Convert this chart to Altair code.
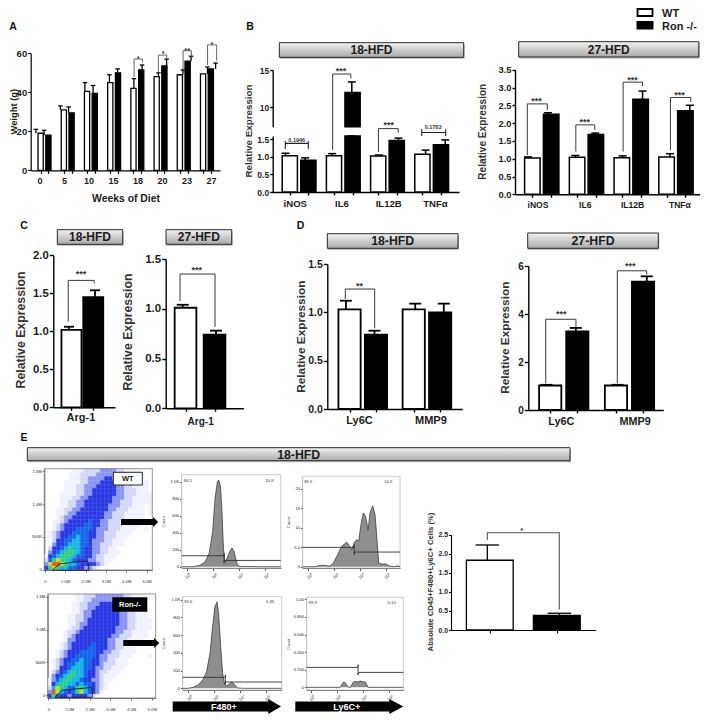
import altair as alt
import pandas as pd

FONT = "Liberation Sans"
INK = "#1c1c1c"
W, H = 692, 706

# ---------- values ----------
A_weeks = ["0", "5", "10", "15", "18", "20", "23", "27"]
A_wt = [19, 31, 40.5, 45, 42, 48, 49, 49.5]
A_wt_err = [21, 33, 45, 49, 47, 50, 51.5, 53]
A_ron = [18, 29.5, 39.5, 50, 51.5, 53.5, 56, 52]
A_ron_err = [20.5, 32.5, 43.5, 52, 54, 57, 58.5, 55]
A_brackets = [[3.84, 47.7, 57.1, 4.18, 55.4], [4.83, 49.4, 59.1, 5.17, 56.9],
              [5.84, 51.8, 61.3, 6.18, 58.3], [6.84, 54, 64.3, 7.21, 56.2]]
A_stars = [[4.01, 58.3, "*"], [5.03, 60.5, "*"], [6.01, 62.4, "**"], [7.02, 65.5, "*"]]

B_genes = ["iNOS", "IL6", "IL12B", "TNFα"]
B1_wt = [1.03, 1.03, 1.02, 1.07]
B1_wt_err = [1.10, 1.09, 1.05, 1.19]
B1_ron = [0.90, 12, 1.46, 1.34]
B1_ron_err = [0.97, 13.4, 1.53, 1.48]
B1_brackets = [[1.78, 1.14, 1.80, 2.205, 1.68]]
B1_stars = [[2.0, 1.97, "***"]]
B1_up_brackets = [[0.80, 4.28, 14.46, 1.19, 13.88]]
B1_up_stars = [[0.98, 15.1, "***"]]
B1_p_iNOS = [[-0.214, 1.22], [-0.214, 1.45], [-0.214, 1.38], [0.278, 1.38], [0.278, 1.45], [0.278, 1.22]]
B1_p_TNF = [[2.707, 1.59], [2.707, 1.78], [2.707, 1.69], [3.22, 1.69], [3.22, 1.78], [3.22, 1.59]]
B1_pvals = [[0.03, 1.49, "0.1946"], [2.95, 1.85, "0.1783"]]

B2_wt = [1.02, 1.04, 1.03, 1.05]
B2_wt_err = [1.05, 1.09, 1.08, 1.14]
B2_ron = [2.25, 1.68, 2.67, 2.35]
B2_ron_err = [2.29, 1.72, 2.90, 2.50]
B2_brackets = [[-0.226, 1.10, 2.54, 0.197, 2.37], [0.80, 1.2, 1.95, 1.2, 1.81],
               [1.80, 1.2, 3.15, 2.21, 3.04], [2.80, 1.24, 2.72, 3.23, 2.6]]
B2_stars = [[-0.03, 2.67, "***"], [0.99, 2.08, "***"], [2.0, 3.26, "***"], [2.99, 2.85, "***"]]

C1_vals, C1_errs = [1.02, 1.45], [1.06, 1.54]
C1_brackets = [[-0.03, 1.126, 1.67, 0.97, 1.63]]
C1_stars = [[0.46, 1.78, "***"]]
C2_vals, C2_errs = [1.01, 0.74], [1.04, 0.78]
C2_brackets = [[-0.08, 1.078, 1.349, 0.97, 0.817]]
C2_stars = [[0.42, 1.41, "***"]]

D_genes = ["Ly6C", "MMP9"]
D1_wt, D1_wt_err = [1.03, 1.03], [1.12, 1.09]
D1_ron, D1_ron_err = [0.77, 1.0], [0.81, 1.09]
D1_brackets = [[-0.215, 1.138, 1.241, 0.209, 0.835]]
D1_stars = [[-0.01, 1.29, "**"]]
D2_wt, D2_wt_err = [1.02, 1.02], [1.05, 1.05]
D2_ron, D2_ron_err = [3.28, 5.35], [3.42, 5.57]
D2_brackets = [[-0.218, 1.11, 3.78, 0.208, 3.47], [0.79, 1.11, 5.8, 1.204, 5.65]]
D2_stars = [[0.0, 4.07, "***"], [0.973, 6.07, "***"]]

E_vals, E_errs = [1.83, 0.38], [2.23, 0.44]
E_brackets = [[0, 2.36, 2.55, 1, 0.54]]
E_stars = [[0.478, 2.65, "*"]]

H1_x = [-0.38, 0.51, 1.02, 1.4, 1.73, 1.99, 2.17, 2.35, 2.45, 2.58, 2.70, 2.81, 2.93, 3.11, 3.32, 3.47, 3.62, 3.83, 4.0, 5.6, 7.19]
H1_y = [0, 0, 16, 55, 161, 416, 808, 996, 1020, 945, 651, 220, 55, 102, 188, 220, 180, 43, 4, 0, 0]
H1_gate = [-0.38, 2.86, 7.19, 129, 74]
H2_x = [-0.43, 0.52, 0.90, 1.29, 1.68, 1.94, 2.25, 2.58, 2.79, 2.97, 3.15, 3.36, 3.54, 3.75, 3.90, 4.08, 4.26, 4.44, 4.63, 4.78, 4.99, 5.17, 5.35, 5.45, 5.68, 6.02, 6.33, 6.72, 6.9, 7.1]
H2_y = [0, 0, 0.34, 0.34, 0.09, 0.94, 2.9, 5.2, 5.8, 6.3, 5.5, 4.4, 6.0, 7.0, 6.5, 10.8, 13.8, 12.9, 9.4, 13.8, 15.6, 13.3, 5.6, 0.94, 0.68, 0.68, 0.09, 0, 0.26, 0]
H2_gate = [-0.43, 3.56, 7.1, 4.96, 3.76]
H3_x = [-0.43, 0, 0.38, 0.77, 1.15, 1.41, 1.67, 1.87, 2.05, 2.21, 2.33, 2.49, 2.64, 2.79, 2.95, 3.15, 3.33, 3.51, 3.77, 4.23, 7.18]
H3_y = [0, 0, 11, 38, 102, 188, 395, 696, 921, 974, 846, 470, 169, 49, 26, 49, 71, 49, 4, 0, 0]
H3_gate = [-0.43, 2.85, 7.18, 124, 71]
H4_x = [-0.31, 2.26, 2.44, 2.56, 2.72, 2.9, 3.08, 3.23, 3.41, 3.59, 3.79, 4.0, 4.2, 4.41, 7.12]
H4_y = [0, 0, 0.045, 0.064, 0.038, 0, 0, 0.053, 0.068, 0.061, 0.072, 0.064, 0.061, 0, 0]
H4_gate = [-0.31, 3.64, 7.12, 0.227, 0.17]

DENS_WT = [
    "000000011122223333221111000", "000000111222233333322111100", "000000111223333443332111100",
    "000001111223334444332211110", "000001112233344444332211110", "000001112233444444332221110",
    "000011112233444444332221111", "000011122334444443332211111", "000011223344444443322211111",
    "000011223344444433322211101", "000112233444444433222111101", "000112334444444332221111101",
    "000123344444444332221111100", "001123444445443322211111100", "001234444455443322211111000",
    "001234445555433322211110010", "012344455554433222111100000", "012344556554433222111000000",
    "012445566554333221110000000", "013445666554332221110000000", "024456766544332211000000000",
    "034567776544332211100000000", "145677765544322111000000000", "257877654443322110000000000",
    "389987665444432100000000000", "478766554433210000000000000"]
DENS_RON = [
    "000000011222333333322111000", "000000011223333333332111000", "000000112233344443332111000",
    "000000112233444444332111000", "000000112334444444332211100", "000001122334444444332211100",
    "000001122344444444332211110", "000001123344444444332211110", "000001223444444443332211110",
    "000012234444444443322111100", "000012344444444433222111100", "000013344444444332221111000",
    "000123444445444332211110100", "000123444455444332211100000", "001234445555443322111100000",
    "001234455555433222111000010", "012344556554433221110000000", "012345566554432221110000000",
    "012445666554332211100000000", "023456766544322111000000000", "034567766544321110000000000",
    "135677665443321100000000000", "146776656554321000000000000", "268765577654321000000000000",
    "398654578654310000000000000", "475443444432100000000000000"]
DENS_COLORS = ["#f1f3fe", "#d3d8fb", "#8a96f3", "#2a3ae4", "#1567ea", "#18b5e8", "#2fd08a", "#c9dc1f", "#e8541a"]
GATE_WT = [[0.36, -0.01], [0.74, 0.09], [1.97, 0.13], [2.12, 0.12], [2.16, -0.01], [0.36, -0.01]]
GATE_RON = [[0.32, -0.03], [0.68, 0.08], [2.1, 0.12], [2.13, -0.03], [0.32, -0.03]]

layers = []


def px(x):
    return x - 8


def scale(a, b, r0, r1, clamp=False):
    if clamp:
        return alt.Scale(domain=[a, b], range=[px(r0), px(r1)], nice=False, zero=False, clamp=True)
    return alt.Scale(domain=[a, b], range=[px(r0), px(r1)], nice=False, zero=False)


ONE = pd.DataFrame({"a": [0]})


def text(t, x, y, size, weight="bold", color=INK, angle=0, align="center"):
    layers.append(alt.Chart(pd.DataFrame({"t": [t]})).mark_text(
        font=FONT, fontSize=size, fontWeight=weight, color=color, angle=angle, align=align, baseline="middle"
    ).encode(x=alt.value(px(x)), y=alt.value(px(y)), text="t:N"))


def rect(x1, x2, y1, y2, fill, stroke=None, sw=0.0):
    kw = {"fill": fill}
    if stroke:
        kw.update(stroke=stroke, strokeWidth=sw)
    layers.append(alt.Chart(ONE).mark_rect(**kw).encode(
        x=alt.value(px(x1)), x2=alt.value(px(x2)), y=alt.value(px(y1)), y2=alt.value(px(y2))))


def header(label, x1, x2, y1, y2, size):
    rect(x1 + 0.5, x2 + 1, y1 + 1.5, y2 + 1.5, "#b5b5b5")
    grad = alt.Gradient(gradient="linear", x1=0, x2=0, y1=0, y2=1,
                        stops=[alt.GradientStop(color="#f2f2f2", offset=0), alt.GradientStop(color="#a9a9a9", offset=1)])
    rect(x1, x2, y1, y2, grad, "#2a2a2a", 1)
    text(label, (x1 + x2) / 2, (y1 + y2) / 2 + 0.3, size)


def arrow(x1, head_start, tip, y, half_shaft, half_head):
    rect(x1, head_start + 0.5, y - half_shaft, y + half_shaft, "black")
    w = (tip - head_start) / 2
    a = w / half_head
    layers.append(alt.Chart(ONE).mark_point(
        shape=f"M {-a} -1 L {a} 0 L {-a} 1 Z", filled=True, fill="black", opacity=1, strokeWidth=0,
        size=(2 * half_head) ** 2
    ).encode(x=alt.value(px(head_start + w)), y=alt.value(px(y))))


def y_axis(left, ticks, size, fmt=None, expr=None, color="black", dw=1.4, ts=3, pad=1, weight="bold"):
    kw = dict(orient="left", offset=-px(left), values=ticks, title=None, grid=False, domainColor=color, domainWidth=dw,
              tickColor=color, tickWidth=dw, tickSize=ts, labelFont=FONT, labelFontSize=size, labelFontWeight=weight,
              labelColor=INK, labelPadding=pad, labelOverlap=False, labelBound=False, labelFlush=False)
    if fmt:
        kw["format"] = fmt
    if expr:
        kw["labelExpr"] = expr
    return alt.Axis(**kw)


def x_axis(base, ticks, dw=1.4, ts=3, labels=False, size=4, expr=None, angle=0, color="black", pad=1):
    kw = dict(orient="bottom", offset=px(base) - H, values=ticks, title=None, grid=False, domainColor=color, domainWidth=dw,
              tickColor=color, tickWidth=dw, tickSize=ts, labels=labels)
    if labels:
        kw.update(labelFont=FONT, labelFontSize=size, labelColor="#333", labelOverlap=False, labelBound=False,
                  labelFlush=False, labelPadding=pad, labelAngle=angle, labelAlign="center", labelBaseline="top")
    if expr:
        kw["labelExpr"] = expr
    return alt.Axis(**kw)


def bracket_layers(br, xs, ys, color="#3a3a3a", width=1.0):
    rows = []
    for i, (x1, y1, top, x2, y2) in enumerate(br):
        for o, (x, y) in enumerate([(x1, y1), (x1, top), (x2, top), (x2, y2)]):
            rows.append({"b": i, "o": o, "x": x, "y": y})
    layers.append(alt.Chart(pd.DataFrame(rows)).mark_line(color=color, strokeWidth=width).encode(
        x=alt.X("x:Q", scale=xs, axis=None), y=alt.Y("y:Q", scale=ys, axis=None), detail="b:N", order="o:Q"))


def star_layer(stars, xs, ys, size=9, dy=2, color="#333333", weight="bold"):
    df = pd.DataFrame(stars, columns=["x", "y", "t"])
    layers.append(alt.Chart(df).mark_text(font=FONT, fontSize=size, fontWeight=weight, color=color, dy=dy,
                                          baseline="middle", align="center").encode(
        x=alt.X("x:Q", scale=xs, axis=None), y=alt.Y("y:Q", scale=ys, axis=None), text="t:N"))


def bars(pos, vals, errs, fills, xs, ys, width, sw, cap, base=0.0, xaxis=None, yaxis=None):
    df = pd.DataFrame({"x": pos, "v": vals, "e": errs, "f": fills, "b": [base] * len(pos)})
    for n, f in enumerate(["white", "black"]):
        part = df[df.f == f]
        if part.empty:
            continue
        ax = {}
        if n == 0:
            ax = {"xa": xaxis, "ya": yaxis}
        layers.append(alt.Chart(part).mark_bar(orient="vertical", size=width, fill=f, stroke="black", strokeWidth=sw).encode(
            x=alt.X("x:Q", scale=xs, axis=ax.get("xa")), y=alt.Y("v:Q", scale=ys, axis=ax.get("ya")), y2="b:Q"))
    layers.append(alt.Chart(df).mark_rule(color="black", strokeWidth=sw).encode(
        x=alt.X("x:Q", scale=xs, axis=None), y=alt.Y("v:Q", scale=ys, axis=None), y2="e:Q"))
    layers.append(alt.Chart(df).mark_tick(orient="horizontal", color="black", size=cap, thickness=sw, opacity=1).encode(
        x=alt.X("x:Q", scale=xs, axis=None), y=alt.Y("e:Q", scale=ys, axis=None)))


def cat_labels(labels, pos, ys, xs, y_base_val, dy, size, weight="bold"):
    df = pd.DataFrame({"x": pos, "t": labels, "y": [y_base_val] * len(pos)})
    layers.append(alt.Chart(df).mark_text(font=FONT, fontSize=size, fontWeight=weight, color=INK, dy=dy,
                                          baseline="middle", align="center").encode(
        x=alt.X("x:Q", scale=xs, axis=None), y=alt.Y("y:Q", scale=ys, axis=None), text="t:N"))


def grouped(n, off):
    p, f = [], []
    for i in range(n):
        p += [i - off, i + off]
        f += ["white", "black"]
    return p, f


def zip2(a, b):
    out = []
    for u, v in zip(a, b):
        out += [u, v]
    return out


# ---------- Panel letters ----------
for t, x, y in [("A", 13, 26.5), ("B", 250, 26.5), ("C", 24, 225.5), ("D", 300.5, 225.5), ("E", 24, 438)]:
    text(t, x, y, 10.5, color="#111")

# ---------- Panel A ----------
xs = scale((30.7 - 40) / 24.5, (220 - 40) / 24.5, 30.7, 220)
ys = scale(0, 60, 170.3, 53.3)
p, f = grouped(8, 0.167)
bars(p, zip2(A_wt, A_ron), zip2(A_wt_err, A_ron_err), f, xs, ys, 5.2, 1.3, 4.5,
     xaxis=x_axis(170.3, p, dw=1.2), yaxis=y_axis(30.7, [0, 20, 40, 60], 9.5, "d", dw=1.2))
bracket_layers(A_brackets, xs, ys, "#555", 0.9)
star_layer(A_stars, xs, ys, 7.5)
cat_labels(A_weeks, list(range(8)), ys, xs, 0, 11, 9)
text("Weight (g)", 13.5, 111.7, 9.4, angle=270)
text("Weeks of Diet", 126, 198.7, 10.4)

# ---------- Panel B1 (broken axis) ----------
header("18-HFD", 279.3, 463.7, 42.7, 57.3, 12)
xs = scale((272.7 - 295.3) / 46.7, (459 - 295.3) / 46.7, 272.7, 459)
ylo = scale(0, 1.59, 192, 136, clamp=True)
ylo_free = scale(0, 1.59, 192, 136)
yup = scale(7.4, 15, 126.7, 70, clamp=True)
yup_free = scale(7.4, 15, 126.7, 70)
p, f = grouped(4, 0.21)
vals, errs = zip2(B1_wt, B1_ron), zip2(B1_wt_err, B1_ron_err)
bars(p, vals, errs, f, xs, ylo, 15.2, 1.5, 8,
     xaxis=x_axis(192, p), yaxis=y_axis(272.7, [0, 0.5, 1.0, 1.5], 8.5, ".1f"))
up_idx = [i for i, v in enumerate(vals) if v > 7.4]
up_df = pd.DataFrame({"x": [p[i] for i in up_idx], "v": [vals[i] for i in up_idx], "e": [errs[i] for i in up_idx], "b": [7.4] * len(up_idx)})
layers.append(alt.Chart(up_df).mark_bar(orient="vertical", size=15.2, fill="black", stroke="black", strokeWidth=1.5).encode(
    x=alt.X("x:Q", scale=xs, axis=None), y=alt.Y("v:Q", scale=yup, axis=y_axis(272.7, [10, 15], 8.5, "d")), y2="b:Q"))
layers.append(alt.Chart(up_df).mark_rule(color="black", strokeWidth=1.5).encode(
    x=alt.X("x:Q", scale=xs, axis=None), y=alt.Y("v:Q", scale=yup, axis=None), y2="e:Q"))
layers.append(alt.Chart(up_df).mark_tick(orient="horizontal", color="black", size=8, thickness=1.5, opacity=1).encode(
    x=alt.X("x:Q", scale=xs, axis=None), y=alt.Y("e:Q", scale=yup, axis=None)))
bracket_layers(B1_brackets, xs, ylo_free)
bracket_layers(B1_up_brackets, xs, yup_free)
star_layer(B1_stars, xs, ylo_free)
star_layer(B1_up_stars, xs, yup_free)
for i, pts in enumerate([B1_p_iNOS, B1_p_TNF]):
    d = pd.DataFrame(pts, columns=["x", "y"]).assign(o=lambda q: range(len(q)))
    layers.append(alt.Chart(d).mark_line(color="#222", strokeWidth=1.1).encode(
        x=alt.X("x:Q", scale=xs, axis=None), y=alt.Y("y:Q", scale=ylo_free, axis=None), order="o:Q"))
star_layer(B1_pvals, xs, ylo_free, 5.5, 0)
cat_labels(B_genes, [0, 1, 2, 3], ylo_free, xs, 0, 12, 9.6)
text("Relative Expression", 249, 131, 9.8, angle=270, color="#333")

# ---------- Panel B2 ----------
header("27-HFD", 518.7, 698.8, 41.7, 57, 12)
xs = scale((515 - 538) / 47.3, (699.5 - 538) / 47.3, 515, 699.5)
ys = scale(0, 3.5, 194.3, 69.7)
p, f = grouped(4, 0.21)
bars(p, zip2(B2_wt, B2_ron), zip2(B2_wt_err, B2_ron_err), f, xs, ys, 15.5, 1.5, 8,
     xaxis=x_axis(194.3, p), yaxis=y_axis(515, [0, 0.5, 1, 1.5, 2, 2.5, 3, 3.5], 9.3, ".1f"))
bracket_layers(B2_brackets, xs, ys)
star_layer(B2_stars, xs, ys)
cat_labels(B_genes, [0, 1, 2, 3], ys, xs, 0, 10.5, 8.6)
text("Relative Expression", 483.3, 131.7, 10.1, angle=270, color="#333")

# Legend
rect(637.5, 652.5, 9, 16, "white", "black", 1.8)
rect(636.5, 653.5, 21, 29.5, "black")
text("WT", 662, 14, 11, align="left")
text("Ron -/-", 662, 27, 11, align="left")

# ---------- Panel C1 ----------
header("18-HFD", 57.3, 122.7, 229.7, 244.3, 12)
xs = scale((53.3 - 69) / 26, (115 - 69) / 26, 53.3, 115)
ys = scale(0, 2, 407.3, 255.3)
bars([0, 1], C1_vals, C1_errs, ["white", "black"], xs, ys, 20, 1.8, 10,
     xaxis=x_axis(407.3, [0, 1]), yaxis=y_axis(53.3, [0, 0.5, 1, 1.5, 2], 11.3, ".1f", ts=4))
bracket_layers(C1_brackets, xs, ys)
star_layer(C1_stars, xs, ys)
cat_labels(["Arg-1"], [0.46], ys, xs, 0, 10.5, 11)
text("Relative Expression", 21, 330, 12.3, angle=270, color="#333")

# ---------- Panel C2 ----------
header("27-HFD", 166, 231.7, 229.7, 244.3, 12)
xs = scale((165.7 - 182.7) / 33.3, (243.3 - 182.7) / 33.3, 165.7, 243.3)
ys = scale(0, 1.5, 408.3, 259)
bars([0, 1], C2_vals, C2_errs, ["white", "black"], xs, ys, 21.7, 1.8, 12,
     xaxis=x_axis(408.3, [0, 1]), yaxis=y_axis(165.7, [0, 0.5, 1, 1.5], 11.5, ".1f", ts=4))
bracket_layers(C2_brackets, xs, ys)
star_layer(C2_stars, xs, ys)
cat_labels(["Arg-1"], [0.54], ys, xs, 0, 14, 10)
text("Relative Expression", 128.3, 332, 12.3, angle=270, color="#333")

# ---------- Panel D1 ----------
header("18-HFD", 327.3, 458, 233.7, 248.3, 12.3)
xs = scale((327.3 - 360.2) / 69.3, (462.3 - 360.2) / 69.3, 327.3, 462.3)
ys = scale(0, 1.5, 409, 264)
p, f = grouped(2, 0.206)
bars(p, zip2(D1_wt, D1_ron), zip2(D1_wt_err, D1_ron_err), f, xs, ys, 22.2, 1.8, 12,
     xaxis=x_axis(409, p), yaxis=y_axis(327.3, [0, 0.5, 1, 1.5], 10.5, ".1f", ts=4))
bracket_layers(D1_brackets, xs, ys)
star_layer(D1_stars, xs, ys)
cat_labels(D_genes, [-0.01, 1.02], ys, xs, 0, 12, 11)
text("Relative Expression", 301, 336.7, 11.8, angle=270, color="#333")

# ---------- Panel D2 ----------
header("27-HFD", 527.7, 658.3, 233, 248.3, 12.3)
xs = scale((528.3 - 561.2) / 71, (663.3 - 561.2) / 71, 528.3, 663.3)
ys = scale(0, 6, 410, 266)
p, f = grouped(2, 0.206)
bars(p, zip2(D2_wt, D2_ron), zip2(D2_wt_err, D2_ron_err), f, xs, ys, 22.2, 1.8, 12,
     xaxis=x_axis(410, p), yaxis=y_axis(528.3, [0, 2, 4, 6], 10, "d", ts=4))
bracket_layers(D2_brackets, xs, ys)
star_layer(D2_stars, xs, ys)
cat_labels(D_genes, [0, 1.04], ys, xs, 0, 11.7, 10.8)
text("Relative Expression", 505, 337.7, 11.8, angle=270, color="#333")

# ---------- Panel E ----------
header("18-HFD", 27.3, 570, 447.7, 460.7, 12.3)


def density(grid, xl, xr, yb, yt, xd, yd, gate, name):
    xsc = scale(xd[0], xd[1], xl, xr)
    ysc = scale(yd[0], yd[1], yb, yt)
    rows = []
    nr, nc = len(grid), len(grid[0])
    dx, dy = (xd[1] - xd[0]) / nc, (yd[1] - yd[0]) / nr
    for r, line in enumerate(grid):
        for c, ch in enumerate(line[:nc]):
            if ch != "0":
                rows.append({"x": xd[0] + c * dx, "x2": xd[0] + (c + 1) * dx, "y": yd[1] - r * dy,
                             "y2": yd[1] - (r + 1) * dy, "l": ch})
    dom = list("123456789")
    layers.append(alt.Chart(pd.DataFrame(rows)).mark_rect(strokeWidth=0.3).encode(
        x=alt.X("x:Q", scale=xsc, axis=None), x2="x2:Q", y=alt.Y("y:Q", scale=ysc, axis=None), y2="y2:Q",
        fill=alt.Fill("l:N", scale=alt.Scale(domain=dom, range=DENS_COLORS), legend=None),
        stroke=alt.Stroke("l:N", scale=alt.Scale(domain=dom, range=DENS_COLORS), legend=None)))
    rect(xl, xr, yt, yb, "transparent", "#777", 0.8)
    g = pd.DataFrame(gate, columns=["x", "y"]).assign(o=lambda q: range(len(q)))
    layers.append(alt.Chart(g).mark_line(color="#222", strokeWidth=0.9).encode(
        x=alt.X("x:Q", scale=xsc, axis=x_axis(yb, [0, 1, 2, 3, 4, 5], dw=0.7, ts=2, labels=True, size=4.2, pad=7,
                                              expr="datum.value==0?'0':datum.value+'.0M'", color="#333")),
        y=alt.Y("y:Q", scale=ysc, axis=y_axis(xl, [0, 0.5, 1, 1.5], 4.2, expr="datum.value==0?'0':datum.value==0.5?'500K':datum.value==1?'1.0M':'1.5M'", dw=0.7, ts=2, color="#333", pad=1, weight="normal")),
        order="o:Q"))


density(DENS_WT, 44.3, 152.3, 570, 468.7, (-0.03, 5.28), (-0.005, 1.54), GATE_WT, "wt")
density(DENS_RON, 47.7, 155.7, 698, 594, (-0.03, 5.19), (-0.04, 1.54), GATE_RON, "ron")
rect(113.3, 142.3, 472.3, 485, "white", "#222", 1)
text("WT", 127.8, 478.8, 7.5)
rect(112.3, 147.3, 597.3, 611.7, "black")
text("Ron-/-", 129.8, 604.5, 7.5, color="white")
arrow(121, 153, 158.3, 522, 3, 5)
arrow(123.3, 154, 159.3, 643, 3, 5)

EXP = "datum.value==0?'10⁰':datum.value==2?'10²':datum.value==4?'10⁴':'10⁶'"


def hist(hx, hy, gate, xl, xr, yb, yt, xd, yd, ticks, yexpr, count_x, pcts):
    xsc = scale(xd[0], xd[1], xl, xr)
    ysc = scale(yd[0], yd[1], yb, yt)
    rect(xl, xr, yt, yb, "white", "#bdbdbd", 0.8)
    df = pd.DataFrame({"x": hx, "y": hy, "b": [0] * len(hx)})
    layers.append(alt.Chart(df).mark_area(fill="#8e8e8e", orient="vertical").encode(
        x=alt.X("x:Q", scale=xsc, axis=x_axis(yb, [0, 2, 4, 6], dw=0.8, ts=2.5, labels=True, size=4.4, expr=EXP, angle=315, pad=4, color="#333")),
        y=alt.Y("y:Q", scale=ysc, axis=y_axis(xl, ticks, 4.2, expr=yexpr, dw=1, ts=2, color="#222", weight="normal")), y2="b:Q"))
    layers.append(alt.Chart(df).mark_line(color="#3c3c3c", strokeWidth=0.8).encode(
        x=alt.X("x:Q", scale=xsc, axis=None), y=alt.Y("y:Q", scale=ysc, axis=None)))
    x0, xm, x1, yl, yr = gate
    cap = (yd[1] - yd[0]) * 0.028
    pts = [(x0, yl), (xm, yl), (xm, yl + cap), (xm, yr - cap), (xm, yr), (x1, yr)]
    g = pd.DataFrame(pts, columns=["x", "y"]).assign(o=lambda q: range(len(q)))
    layers.append(alt.Chart(g).mark_line(color="#333", strokeWidth=0.9).encode(
        x=alt.X("x:Q", scale=xsc, axis=None), y=alt.Y("y:Q", scale=ysc, axis=None), order="o:Q"))
    text("Count", count_x, (yb + yt) / 2 + 0.5, 4.2, weight="normal", color="#444", angle=270)
    for t, x, y in pcts:
        text(t, x, y, 4.2, weight="normal", color="#333")


YK = "datum.value==1000?'1.0K':''+datum.value"
hist(H1_x, H1_y, H1_gate, 181.7, 280.7, 568, 474.7, (-0.38, 7.19), (-15, 1082), [0, 200, 400, 600, 800, 1000], YK, 164.3,
     [("84.1", 188, 480.7), ("15.9", 269.3, 480.7)])
hist(H2_x, H2_y, H2_gate, 302.7, 400, 568, 476.3, (-0.43, 7.1), (-0.33, 23.2), [0, 5, 10, 15, 20], "datum.value==5?'5.0':''+datum.value", 289.3,
     [("85.5", 308.3, 482), ("14.5", 388.3, 482)])
hist(H3_x, H3_y, H3_gate, 182.7, 281.7, 690, 596.7, (-0.43, 7.18), (-19, 1033), [0, 200, 400, 600, 800, 1000], YK, 164.3,
     [("94.6", 188.3, 602), ("5.35", 270, 602)])
hist(H4_x, H4_y, H4_gate, 306.7, 403.3, 690, 597.3, (-0.31, 7.12), (-0.03, 1.023), [0, 0.2, 0.4, 0.6, 0.8, 1], "datum.value==0?'0':datum.value==1?'1.00':format(datum.value,'.3f')", 289.3,
     [("99.9", 312.7, 602.7), ("0.10", 391.7, 602.7)])

arrow(172.7, 268.3, 281, 706.5, 5, 7.5)
arrow(295.3, 389.3, 403.3, 706.5, 5, 7.5)
text("F480+", 224, 706.5, 9, color="white")
text("Ly6C+", 346.7, 706.5, 9, color="white")

# Bar chart E
xs = scale((451 - 487.3) / 72, (595.7 - 487.3) / 72, 451, 595.7)
ys = scale(0, 2.5, 630, 534.7)
bars([0, 1], E_vals, E_errs, ["white", "black"], xs, ys, 46.8, 1.3, 23.5,
     xaxis=x_axis(630, [0, 1], dw=1.1), yaxis=y_axis(451, [0, 0.5, 1, 1.5, 2, 2.5], 6.8, ".1f", dw=1.1, ts=2.5))
bracket_layers(E_brackets, xs, ys, "#555", 1.1)
star_layer(E_stars, xs, ys, 7.5)
text("Absolute CD45+F480+Ly6C+ Cells (%)", 430.7, 582, 7.7, angle=270, color="#333")

chart = alt.layer(*layers).resolve_scale(x="independent", y="independent").properties(
    width=W, height=H, padding=0, autosize=alt.AutoSizeParams(type="none"), background="white"
).configure_view(stroke=None)

chart.save("out.html", embed_options={"renderer": "svg", "actions": False})
